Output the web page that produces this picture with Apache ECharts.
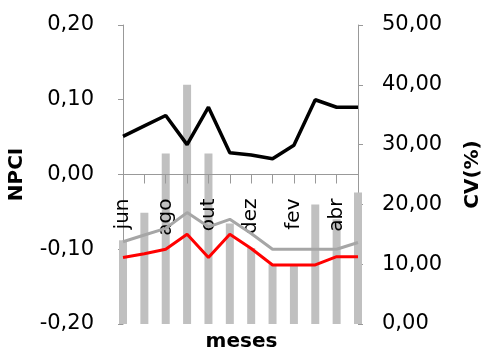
<!DOCTYPE html>
<html>
<head>
<meta charset="utf-8">
<script src="https://cdn.jsdelivr.net/npm/echarts@6/dist/echarts.min.js"></script>
<style>
  html, body { margin: 0; padding: 0; background: #fff; }
  #chart { width: 483px; height: 354px; }
</style>
</head>
<body>
<div id="chart"></div>
<script>
// Months, June to May
const months = ['jun', 'jul', 'ago', 'set', 'out', 'nov', 'dez', 'jan', 'fev', 'mar', 'abr', 'mai'];

// NPCI series (left axis)
const npciBlack = [0.051, 0.065, 0.079, 0.040, 0.090, 0.029, 0.026, 0.021, 0.039, 0.100, 0.090, 0.090];
const npciGray  = [-0.090, -0.081, -0.072, -0.051, -0.070, -0.060, -0.079, -0.100, -0.100, -0.100, -0.100, -0.091];
const npciRed   = [-0.111, -0.106, -0.100, -0.080, -0.111, -0.080, -0.099, -0.121, -0.121, -0.121, -0.110, -0.110];

// CV (%) bars (right axis)
const cvBars = [14.0, 18.6, 28.5, 40.0, 28.5, 16.8, 12.7, 10.0, 10.0, 20.0, 17.5, 22.0];

// Axis ranges
const npciTicks = { min: -0.2, max: 0.2, step: 0.1 };
const cvTicks = { min: 0, max: 50, step: 10 };

const FONT = 'DejaVu Sans';
const AXIS_GRAY = '#999999';
const TEXT = '#000000';
const GRID = { left: 123, right: 125, top: 25, bottom: 30 };
const PLOT_H = 354 - GRID.top - GRID.bottom;

function commaFixed(v) {
  if (Math.abs(v) < 1e-9) v = 0;
  return v.toFixed(2).replace('.', ',');
}

// pixel offset that lifts the category axis from the bottom edge to NPCI = 0
const zeroOffset = -PLOT_H * (0 - npciTicks.min) / (npciTicks.max - npciTicks.min);

const chart = echarts.init(document.getElementById('chart'), null, { renderer: 'canvas' });

chart.setOption({
  animation: false,
  backgroundColor: '#ffffff',
  grid: Object.assign({ outerBoundsMode: 'none', containLabel: false }, GRID),
  title: {
    text: 'meses',
    left: 'center',
    top: 332,
    padding: 0,
    textStyle: { fontFamily: FONT, fontSize: 20, fontWeight: 'bold', color: TEXT }
  },
  xAxis: {
    type: 'category',
    data: months,
    boundaryGap: false,
    position: 'bottom',
    offset: zeroOffset,
    z: 2,
    axisLine: { onZero: false, lineStyle: { color: AXIS_GRAY, width: 1 } },
    axisTick: { show: true, interval: 0, length: 9, lineStyle: { color: AXIS_GRAY } },
    axisLabel: {
      interval: 1,
      rotate: 90,
      margin: 24,
      fontFamily: FONT,
      fontSize: 20,
      color: TEXT,
      padding: [7, 0, 0, 0]
    },
    splitLine: { show: false }
  },
  yAxis: [
    {
      type: 'value',
      min: npciTicks.min,
      max: npciTicks.max,
      interval: npciTicks.step,
      position: 'left',
      name: 'NPCI',
      nameLocation: 'middle',
      nameRotate: 90,
      nameGap: 96,
      nameTextStyle: { fontFamily: FONT, fontSize: 20, fontWeight: 'bold', color: TEXT },
      axisLine: { show: true, lineStyle: { color: AXIS_GRAY, width: 1 } },
      axisTick: { show: true, length: 5, lineStyle: { color: AXIS_GRAY } },
      axisLabel: { margin: 29, fontFamily: FONT, fontSize: 21, color: TEXT, formatter: commaFixed },
      splitLine: { show: false }
    },
    {
      type: 'value',
      min: cvTicks.min,
      max: cvTicks.max,
      interval: cvTicks.step,
      position: 'right',
      name: 'CV(%)',
      nameLocation: 'middle',
      nameRotate: 90,
      nameGap: 105,
      nameTextStyle: { fontFamily: FONT, fontSize: 20, fontWeight: 'bold', color: TEXT },
      axisLine: { show: true, lineStyle: { color: AXIS_GRAY, width: 1 } },
      axisTick: { show: true, length: 5, lineStyle: { color: AXIS_GRAY } },
      axisLabel: { margin: 24, fontFamily: FONT, fontSize: 21, color: TEXT, formatter: commaFixed },
      splitLine: { show: false }
    }
  ],
  series: [
    {
      name: 'CV',
      type: 'bar',
      yAxisIndex: 1,
      data: cvBars,
      barWidth: 8,
      z: 1,
      itemStyle: { color: '#c0c0c0' }
    },
    {
      name: 'NPCI min',
      type: 'line',
      yAxisIndex: 0,
      data: npciGray,
      symbol: 'none',
      z: 3,
      lineStyle: { color: '#a6a6a6', width: 3 }
    },
    {
      name: 'NPCI red',
      type: 'line',
      yAxisIndex: 0,
      data: npciRed,
      symbol: 'none',
      z: 3,
      lineStyle: { color: '#ff0000', width: 3 }
    },
    {
      name: 'NPCI',
      type: 'line',
      yAxisIndex: 0,
      data: npciBlack,
      symbol: 'none',
      z: 3,
      lineStyle: { color: '#000000', width: 3.5 }
    }
  ]
});
</script>
</body>
</html>
